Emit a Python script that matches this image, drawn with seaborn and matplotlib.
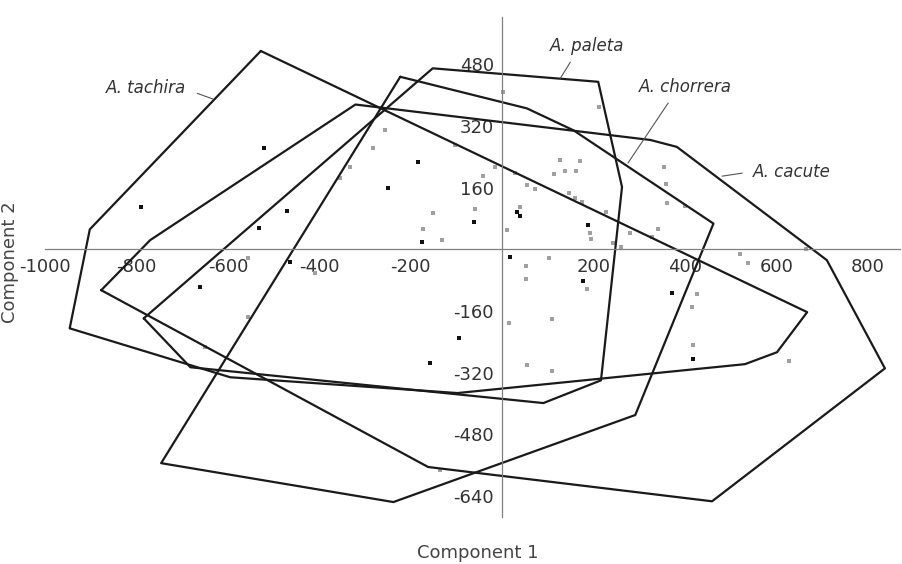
import matplotlib
matplotlib.use("Agg")
import matplotlib.pyplot as plt
import pandas as pd
import seaborn as sns

# hull vertices (Component 1, Component 2)
tachira_x = [-528, 667, 601, 531, -98, -595, -946, -902]
tachira_y = [515, -163, -267, -298, -373, -332, -205, 52]

paleta_x = [-784, -152, 210, 262, 216, 90, -682]
paleta_y = [-179, 470, 435, 162, -340, -399, -306]

chorrera_x = [-223, 54, 156, 462, 291, -238, -746]
chorrera_y = [448, 366, 309, 67, -430, -656, -555]

cacute_x = [-877, -770, -321, 324, 382, 710, 837, 459, -162]
cacute_y = [-106, 24, 376, 284, 266, -28, -309, -654, -565]

# individual samples
dark_x = [-522, -184, -249, -789, -470, -531, -175, -464, -660, -157,
          -61, 33, 39, 188, 18, 177, -94, 372, 418]
dark_y = [263, 226, 159, 110, 99, 55, 19, -33, -98, -295,
          71, 97, 86, 63, -20, -83, -231, -114, -285]

light_x = [-256, -282, -332, -354, -151, -173, -131, -555, -409, -649,
           -555, -136, 2, 212, -103, -15, -42, 28, 55, 72,
           -59, 39, 127, 171, 114, 138, 162, 147, 160, 175,
           227, 192, 195, 243, 260, 280, 328, 341, 354, 359,
           361, 400, 11, 665, 53, 53, 103, 186, 15, 109,
           55, 109, 426, 415, 418, 520, 538, 628]
light_y = [310, 263, 213, 185, 94, 52, 24, -23, -62, -254,
           -176, -573, 408, 369, 271, 213, 190, 198, 167, 156,
           104, 110, 232, 229, 195, 203, 203, 146, 133, 123,
           97, 42, 27, 16, 6, 42, 32, 52, 213, 169,
           120, 112, 50, 1, -44, -77, -23, -103, -192, -181,
           -301, -316, -116, -150, -249, -13, -36, -290]

x_ticks = [-1000, -800, -600, -400, -200, 200, 400, 600, 800]
y_ticks = [-640, -480, -320, -160, 160, 320, 480]

hulls = {
    "A. tachira": (tachira_x, tachira_y),
    "A. paleta": (paleta_x, paleta_y),
    "A. chorrera": (chorrera_x, chorrera_y),
    "A. cacute": (cacute_x, cacute_y),
}

sns.set_style("white")
plt.rcParams["font.family"] = ["DejaVu Sans"]
plt.rcParams["axes.unicode_minus"] = False

fig = plt.figure(figsize=(9.02, 5.64), dpi=100)
ax = fig.add_axes([45 / 902, 1 - 516.7 / 564, 855 / 902, 500 / 564])

for name, (hx, hy) in hulls.items():
    df = pd.DataFrame({"x": hx + hx[:1], "y": hy + hy[:1]})
    sns.lineplot(data=df, x="x", y="y", sort=False, estimator=None,
                 color="#1a1a1a", linewidth=1.6, ax=ax)

sns.scatterplot(x=light_x, y=light_y, color="#a0a0a0", marker="s", s=7,
                linewidth=0, ax=ax)
sns.scatterplot(x=dark_x, y=dark_y, color="#111111", marker="s", s=8,
                linewidth=0, ax=ax)

# species labels with leader lines
labels = [
    ("A. tachira", (-778, 418), [(-667, -632), (405, 390)]),
    ("A. paleta", (186, 528), [(149, 127), (486, 444)]),
    ("A. chorrera", (400, 421), [(363, 275), (380, 224)]),
    ("A. cacute", (634, 200), [(525, 481), (198, 190)]),
]
for txt, (tx, ty), (lx, ly) in labels:
    ax.text(tx, ty, txt, style="italic", fontsize=12, color="#333333",
            ha="center", va="center")
    ax.plot(lx, ly, color="#555555", linewidth=0.8)

ax.set_xlim(-1000, 870)
ax.set_ylim(-694, 604)
ax.set_xticks(x_ticks)
ax.set_xticklabels([str(v) for v in x_ticks])
ax.set_yticks(y_ticks)
ax.set_yticklabels([str(v) for v in y_ticks])

for side in ["top", "right"]:
    ax.spines[side].set_visible(False)
ax.spines["left"].set_position(("data", 0))
ax.spines["bottom"].set_position(("data", 0))
for side in ["left", "bottom"]:
    ax.spines[side].set_color("#808080")
    ax.spines[side].set_linewidth(0.9)

ax.tick_params(axis="x", direction="in", length=4, width=0.9, color="#808080",
               labelsize=13, labelcolor="#333333", pad=6)
ax.tick_params(axis="y", direction="out", length=4, width=0.9, color="#808080",
               labelsize=13, labelcolor="#333333", pad=2)
ax.set_xlabel("")
ax.set_ylabel("")

fig.text(478 / 902, 1 - 553 / 564, "Component 1", ha="center", va="center",
         fontsize=13, color="#444444")
fig.text(10 / 902, 1 - 262 / 564, "Component 2", ha="center", va="center",
         rotation=90, fontsize=13, color="#444444")

fig.savefig("out.png", dpi=100, facecolor="white")
